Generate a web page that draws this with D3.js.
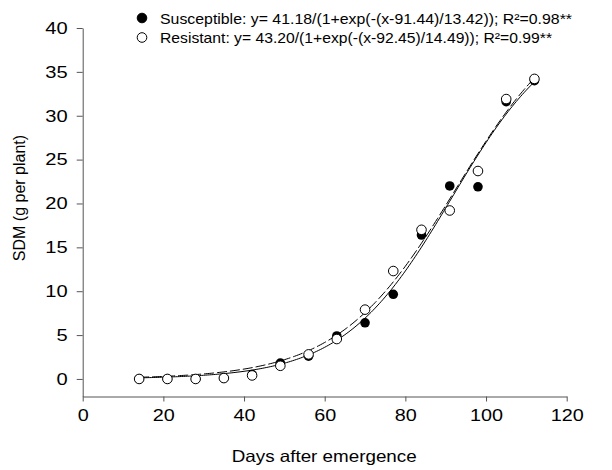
<!DOCTYPE html>
<html><head><meta charset="utf-8">
<script src="https://cdn.jsdelivr.net/npm/d3@7"></script>
<style>body{margin:0;background:#fff}svg{display:block}text{font-family:"Liberation Sans",Arial,sans-serif;fill:#000}</style>
</head><body><svg id="c" width="612" height="470"></svg>
<script>
const days = [14,21,28,35,42,49,56,63,70,77,84,91,98,105,112];
const susceptible = [0,0,0,0.1,0.5,1.8,2.6,4.9,6.4,9.65,16.4,22.0,21.9,31.6,34.0];
const resistant = [0,0,0,0.1,0.4,1.5,2.8,4.55,7.9,12.3,17.0,19.2,23.7,31.9,34.2];
const fitS = {a:41.18, x0:91.44, b:13.42};
const fitR = {a:43.20, x0:92.45, b:14.49};
const xTicks = [0,20,40,60,80,100,120];
const yTicks = [0,5,10,15,20,25,30,35,40];
const legendLabels = ["Susceptible: y= 41.18/(1+exp(-(x-91.44)/13.42)); R\u00b2=0.98**",
                      "Resistant: y= 43.20/(1+exp(-(x-92.45)/14.49)); R\u00b2=0.99**"];

const svg = d3.select("#c");
const x = d3.scaleLinear().domain([0,120]).range([82.7,566.7]);
const y = d3.scaleLinear().domain([-2,40]).range([396.5,28]);
const axisCol = "#555";
const FONT = "Liberation Sans, Arial, sans-serif";

const xa = svg.append("g").attr("transform","translate(0,396.5)")
  .call(d3.axisBottom(x).tickValues(xTicks).tickSize(5).tickPadding(8).tickSizeOuter(0));
xa.selectAll("text").attr("font-size",16.5).attr("font-family",FONT);
const ya = svg.append("g").attr("transform","translate(82.7,0)")
  .call(d3.axisLeft(y).tickValues(yTicks).tickSize(6).tickPadding(9).tickSizeOuter(0));
ya.selectAll("text").attr("font-size",16.5).attr("font-family",FONT);
xa.selectAll(".tick text").attr("transform","scale(1.2,1)");
ya.selectAll(".tick text").each(function(){
  const t = d3.select(this);
  const xx = +t.attr("x");
  t.attr("x", xx/1.22).attr("transform","scale(1.22,1)");
});
svg.selectAll(".domain").attr("stroke",axisCol);
svg.selectAll(".tick line").attr("stroke",axisCol);
svg.selectAll(".tick text").attr("fill","#000");

svg.append("text").attr("x",231.7).attr("y",461.5).attr("font-size",16.5)
  .attr("textLength",185).attr("lengthAdjust","spacingAndGlyphs").text("Days after emergence");
svg.append("text").attr("transform","translate(25,198) rotate(-90)").attr("text-anchor","middle").attr("font-size",16).text("SDM (g per plant)");

const logi = f => t => f.a/(1+Math.exp(-(t-f.x0)/f.b));
const curveX = d3.range(14,112.01,0.5);
const line = fn => d3.line().x(d=>x(d)).y(d=>y(fn(d)))(curveX);
svg.append("path").attr("d",line(logi(fitS))).attr("fill","none").attr("stroke","#000").attr("stroke-width",1);
svg.append("path").attr("d",line(logi(fitR))).attr("fill","none").attr("stroke","#000").attr("stroke-width",1).attr("stroke-dasharray","10,3");

const r = 4.8;
svg.append("g").selectAll("circle").data(days).join("circle")
  .attr("cx",(d)=>x(d)).attr("cy",(d,i)=>y(susceptible[i])).attr("r",r).attr("fill","#000");
svg.append("g").selectAll("circle").data(days).join("circle")
  .attr("cx",(d)=>x(d)).attr("cy",(d,i)=>y(resistant[i])).attr("r",r).attr("fill","#fff").attr("stroke","#000").attr("stroke-width",1);

const legendWidths = [412, 392];
const lg = svg.append("g");
legendLabels.forEach((t,i)=>{
  const cy = 18 + i*19.5;
  lg.append("circle").attr("cx",142).attr("cy",cy).attr("r",r)
    .attr("fill", i===0?"#000":"#fff").attr("stroke","#000").attr("stroke-width",1);
  lg.append("text").attr("x",160).attr("y",cy+5.5).attr("font-size",14.5)
    .attr("textLength",legendWidths[i]).attr("lengthAdjust","spacingAndGlyphs").text(t);
});
</script></body></html>
